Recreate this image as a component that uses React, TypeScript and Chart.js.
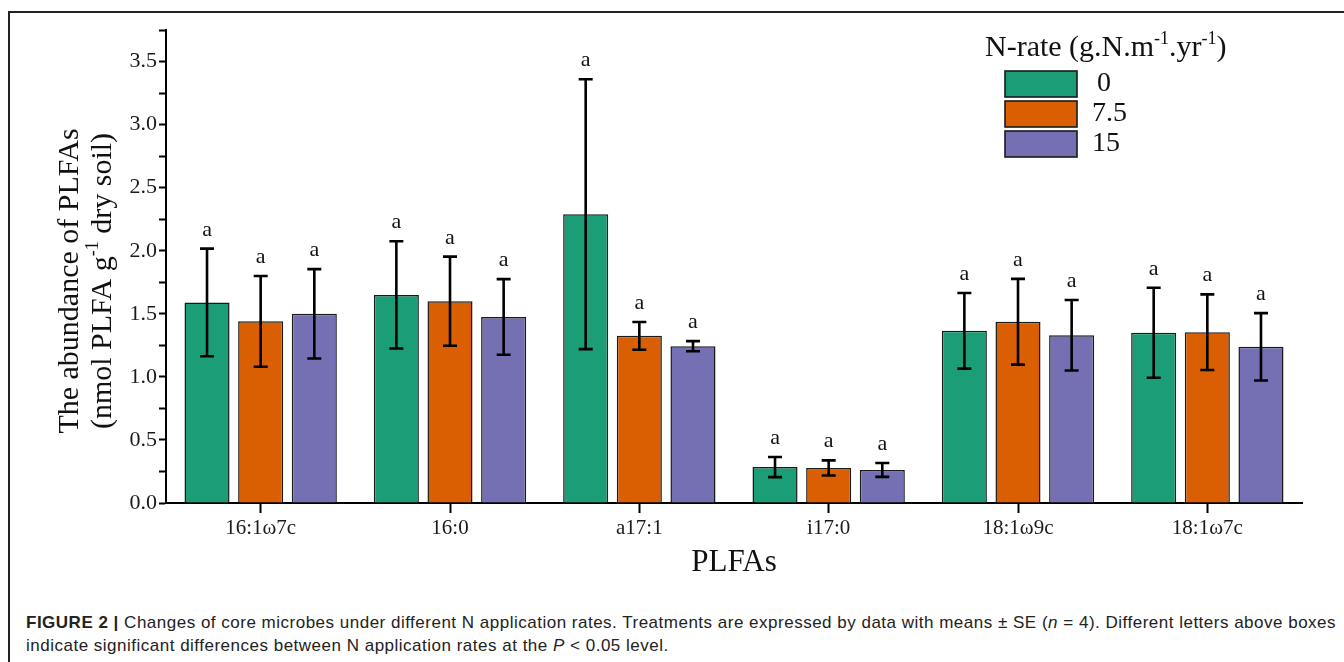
import React, { useEffect, useRef } from "react";
import { Chart, registerables } from "chart.js";

Chart.register(...registerables);

const categories = ["16:1ω7c", "16:0", "a17:1", "i17:0", "18:1ω9c", "18:1ω7c"];
const seriesNames = ["0", "7.5", "15"];
const mean0 = [1.59, 1.65, 2.29, 0.285, 1.365, 1.35];
const mean75 = [1.44, 1.60, 1.325, 0.278, 1.437, 1.354];
const mean15 = [1.50, 1.475, 1.243, 0.262, 1.33, 1.238];
const se0 = [0.427, 0.425, 1.07, 0.08, 0.30, 0.357];
const se75 = [0.36, 0.353, 0.11, 0.06, 0.34, 0.30];
const se15 = [0.354, 0.30, 0.04, 0.055, 0.28, 0.267];
const letters0 = ["a", "a", "a", "a", "a", "a"];
const letters75 = ["a", "a", "a", "a", "a", "a"];
const letters15 = ["a", "a", "a", "a", "a", "a"];
const colors = ["#1b9e77", "#d95f02", "#7570b3"];

const SERIF = "'Liberation Serif', 'Times New Roman', serif";

const means = [mean0, mean75, mean15];
const ses = [se0, se75, se15];
const letters = [letters0, letters75, letters15];

const decorPlugin = {
  id: "decor",
  afterDatasetsDraw(chart: any) {
    const ctx = chart.ctx as CanvasRenderingContext2D;
    const yS = chart.scales.y;
    ctx.save();
    for (let i = 0; i < 3; i++) {
      const meta = chart.getDatasetMeta(i);
      meta.data.forEach((bar: any, j: number) => {
        const x = bar.x;
        const top = yS.getPixelForValue(means[i][j] + ses[i][j]);
        const bot = yS.getPixelForValue(means[i][j] - ses[i][j]);
        ctx.strokeStyle = "#000";
        ctx.lineWidth = 2.6;
        ctx.beginPath();
        ctx.moveTo(x, top);
        ctx.lineTo(x, bot);
        ctx.moveTo(x - 7, top);
        ctx.lineTo(x + 7, top);
        ctx.moveTo(x - 7, bot);
        ctx.lineTo(x + 7, bot);
        ctx.stroke();
        ctx.fillStyle = "#111";
        ctx.font = `22px ${SERIF}`;
        ctx.textAlign = "center";
        ctx.textBaseline = "alphabetic";
        ctx.fillText(letters[i][j], x, top - 13);
      });
    }
    ctx.restore();
  },
  afterDraw(chart: any) {
    const ctx = chart.ctx as CanvasRenderingContext2D;
    const area = chart.chartArea;
    ctx.save();
    ctx.fillStyle = "#111";
    const big = 30;
    const sup = 18;
    ctx.translate(70, 281);
    ctx.rotate(-Math.PI / 2);
    ctx.textBaseline = "middle";
    ctx.textAlign = "center";
    ctx.font = `${big}px ${SERIF}`;
    ctx.fillText("The abundance of PLFAs", 0, 0);
    const p1 = "(nmol PLFA g";
    const p2 = "-1";
    const p3 = " dry soil)";
    ctx.font = `${big}px ${SERIF}`;
    const w1 = ctx.measureText(p1).width;
    const w3 = ctx.measureText(p3).width;
    ctx.font = `${sup}px ${SERIF}`;
    const w2 = ctx.measureText(p2).width;
    let sx = -(w1 + w2 + w3) / 2;
    ctx.textAlign = "left";
    ctx.font = `${big}px ${SERIF}`;
    ctx.fillText(p1, sx, 33);
    sx += w1;
    ctx.font = `${sup}px ${SERIF}`;
    ctx.fillText(p2, sx, 33 - 10);
    sx += w2;
    ctx.font = `${big}px ${SERIF}`;
    ctx.fillText(p3, sx, 33);
    ctx.restore();

    ctx.save();
    ctx.fillStyle = "#111";
    ctx.font = `31px ${SERIF}`;
    ctx.textAlign = "center";
    ctx.textBaseline = "middle";
    ctx.fillText("PLFAs", (area.left + area.right) / 2, 563);
    ctx.restore();

    ctx.save();
    ctx.fillStyle = "#111";
    ctx.textBaseline = "middle";
    ctx.textAlign = "left";
    const parts: [string, boolean][] = [
      ["N-rate (g.N.m", false],
      ["-1", true],
      [".yr", false],
      ["-1", true],
      [")", false],
    ];
    let lx = 985;
    const ly = 48;
    parts.forEach(([t, s]) => {
      ctx.font = `${s ? sup : big}px ${SERIF}`;
      ctx.fillText(t, lx, s ? ly - 9 : ly);
      lx += ctx.measureText(t).width;
    });
    const boxTops = [71, 101, 131];
    const labelX = [1097, 1092, 1092];
    for (let i = 0; i < 3; i++) {
      ctx.fillStyle = colors[i];
      ctx.fillRect(1005, boxTops[i], 72, 26);
      ctx.strokeStyle = "#1a1a1a";
      ctx.lineWidth = 1.6;
      ctx.strokeRect(1005, boxTops[i], 72, 26);
      ctx.fillStyle = "#111";
      ctx.font = `28px ${SERIF}`;
      ctx.fillText(seriesNames[i], labelX[i], boxTops[i] + 13);
    }
    ctx.restore();
  },
};

export default function App() {
  const ref = useRef<HTMLCanvasElement | null>(null);
  useEffect(() => {
    if (!ref.current) return;
    const chart = new Chart(ref.current, {
      type: "bar",
      data: {
        labels: categories,
        datasets: seriesNames.map((n, i) => ({
          label: n,
          data: means[i],
          backgroundColor: colors[i],
          borderColor: "#1a1a1a",
          borderWidth: 1.5,
          barPercentage: 0.84,
          categoryPercentage: 0.85,
        })),
      },
      options: {
        animation: false,
        responsive: false,
        layout: { padding: { top: 30, right: 42, left: 0, bottom: 0 } },
        plugins: { legend: { display: false }, tooltip: { enabled: false }, title: { display: false } },
        scales: {
          x: {
            grid: {
              display: true,
              drawOnChartArea: false,
              offset: false,
              tickLength: 10,
              tickColor: "#000",
              tickWidth: 2,
            },
            border: { display: true, color: "#000", width: 2 },
            ticks: { font: { family: SERIF, size: 21 }, color: "#1a1a1a", padding: 3, maxRotation: 0 },
            afterFit: (s: any) => {
              s.height = 97;
            },
          },
          y: {
            min: 0,
            max: 3.75,
            grid: { display: true, drawOnChartArea: false, tickLength: 7, tickColor: "#000", tickWidth: 2 },
            border: { display: true, color: "#000", width: 2 },
            ticks: {
              stepSize: 0.25,
              autoSkip: false,
              font: { family: SERIF, size: 22 },
              color: "#1a1a1a",
              padding: 2,
              callback: (v: any) => {
                const n = Number(v);
                return Math.abs(n * 2 - Math.round(n * 2)) < 1e-6 ? n.toFixed(1) : "";
              },
            },
            afterFit: (s: any) => {
              s.width = 166;
            },
          },
        },
      },
      plugins: [decorPlugin],
    });
    return () => chart.destroy();
  }, []);

  return (
    <div style={{ position: "fixed", left: 0, top: 0, width: 1344, height: 662, overflow: "hidden", background: "#fff" }}>
      <div
        style={{
          position: "absolute",
          left: 8,
          top: 11,
          width: 1400,
          height: 700,
          borderTop: "2px solid #222",
          borderLeft: "2px solid #222",
        }}
      />
      <canvas ref={ref} width={1344} height={600} style={{ position: "absolute", left: 0, top: 0, width: 1344, height: 600 }} />
      <div
        style={{
          position: "absolute",
          left: 26,
          top: 611,
          fontFamily: "'Liberation Sans', Arial, sans-serif",
          fontSize: 17,
          letterSpacing: "0.5px",
          lineHeight: "23px",
          color: "#222",
          whiteSpace: "nowrap",
        }}
      >
        <b>FIGURE 2 |</b> Changes of core microbes under different N application rates. Treatments are expressed by data with means ± SE (
        <i>n</i> = 4). Different letters above boxes
        <br />
        indicate significant differences between N application rates at the <i>P</i> &lt; 0.05 level.
      </div>
    </div>
  );
}
